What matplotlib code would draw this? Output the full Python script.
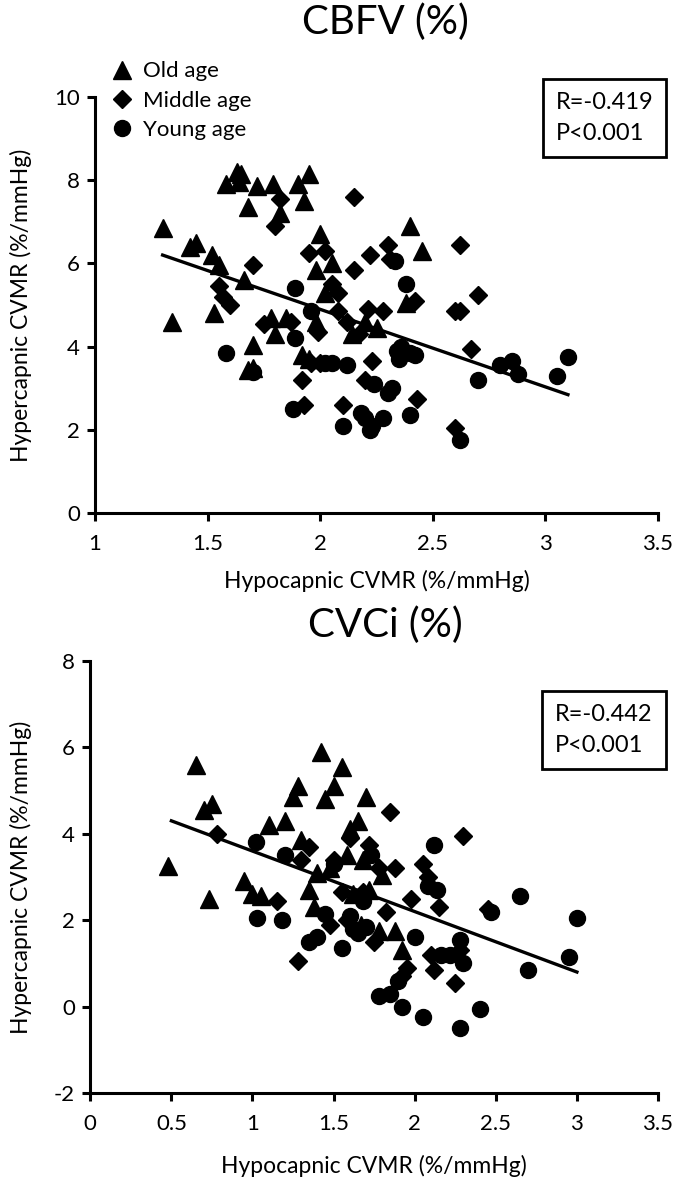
import matplotlib
matplotlib.use("Agg")
import matplotlib.pyplot as plt
import numpy as np

plt.rcParams['font.family'] = ['Lato', 'DejaVu Sans']
plt.rcParams['axes.unicode_minus'] = False

# ---- CBFV (%) panel ----
cbfv_old_x = [1.30, 1.34, 1.42, 1.45, 1.52, 1.55, 1.53, 1.58, 1.63, 1.64, 1.65, 1.66, 1.68, 1.70, 1.68, 1.70,
              1.72, 1.78, 1.79, 1.80, 1.82, 1.85, 1.90, 1.93, 1.95, 1.92, 1.95, 1.98, 2.00, 2.02, 2.05,
              2.14, 2.20, 2.25, 2.38, 2.40, 2.45, 1.98]
cbfv_old_y = [6.85, 4.60, 6.40, 6.50, 6.20, 5.95, 4.80, 7.90, 8.20, 7.95, 8.15, 5.60, 7.35, 4.05, 3.45, 3.50,
              7.85, 4.70, 7.90, 4.30, 7.20, 4.70, 7.90, 7.50, 8.15, 3.80, 3.70, 5.85, 6.70, 5.30, 6.00,
              4.30, 4.60, 4.45, 5.05, 6.90, 6.30, 4.60]
cbfv_mid_x = [1.55, 1.57, 1.60, 1.70, 1.75, 1.80, 1.82, 1.87, 1.92, 1.93, 1.95, 1.96, 1.99, 2.00, 2.02, 2.05,
              2.08, 2.08, 2.10, 2.12, 2.15, 2.15, 2.17, 2.20, 2.21, 2.22, 2.23, 2.28, 2.30, 2.31, 2.35,
              2.42, 2.43, 2.60, 2.60, 2.62, 2.62, 2.67, 2.70]
cbfv_mid_y = [5.45, 5.20, 5.00, 5.95, 4.55, 6.90, 7.55, 4.60, 3.20, 2.60, 6.25, 3.60, 4.35, 3.60, 6.30, 5.50,
              4.85, 5.30, 2.60, 4.60, 7.60, 5.85, 4.30, 3.20, 4.90, 6.20, 3.65, 4.85, 6.45, 6.10, 3.90,
              5.10, 2.75, 2.05, 4.85, 6.45, 4.85, 3.95, 5.25]
cbfv_young_x = [1.58, 1.70, 1.88, 1.89, 1.89, 1.96, 2.02, 2.05, 2.10, 2.12, 2.18, 2.20, 2.22, 2.23, 2.24, 2.28,
                2.30, 2.32, 2.33, 2.34, 2.35, 2.36, 2.38, 2.40, 2.42, 2.40, 2.62, 2.70, 2.80, 2.85, 2.88,
                3.05, 3.10]
cbfv_young_y = [3.85, 3.40, 2.50, 4.20, 5.40, 4.85, 3.60, 3.60, 2.10, 3.55, 2.40, 2.30, 2.00, 2.10, 3.10, 2.30,
                2.90, 3.00, 6.05, 3.90, 3.70, 4.00, 5.50, 3.85, 3.80, 2.35, 1.75, 3.20, 3.55, 3.65, 3.35,
                3.30, 3.75]
cbfv_fit_x = [1.30, 3.10]
cbfv_fit_y = [6.20, 2.85]

# ---- CVCi (%) panel ----
cvci_old_x = [0.48, 0.65, 0.70, 0.75, 0.73, 0.95, 1.00, 1.05, 1.10, 1.20, 1.25, 1.28, 1.30, 1.35, 1.38, 1.42,
              1.48, 1.50, 1.55, 1.58, 1.62, 1.65, 1.68, 1.70, 1.72, 1.78, 1.80, 1.88, 1.92, 1.40, 1.45,
              1.60, 1.67]
cvci_old_y = [3.25, 5.60, 4.55, 4.70, 2.50, 2.90, 2.60, 2.55, 4.20, 4.30, 4.85, 5.10, 3.85, 2.70, 2.30, 5.90,
              3.20, 5.10, 5.55, 3.50, 2.60, 4.30, 3.40, 4.85, 2.70, 1.75, 3.05, 1.75, 1.30, 3.10, 4.80,
              4.10, 1.90]
cvci_mid_x = [0.78, 1.15, 1.28, 1.30, 1.35, 1.48, 1.50, 1.55, 1.58, 1.60, 1.68, 1.72, 1.75, 1.78, 1.82, 1.85,
              1.88, 1.92, 1.95, 1.98, 2.05, 2.08, 2.10, 2.12, 2.15, 2.25, 2.28, 2.30, 2.45]
cvci_mid_y = [4.00, 2.45, 1.05, 3.40, 3.70, 1.90, 3.40, 2.65, 2.00, 3.90, 2.65, 3.75, 1.50, 3.20, 2.20, 4.50,
              3.20, 0.70, 0.90, 2.50, 3.30, 3.00, 1.20, 0.85, 2.30, 0.55, 1.30, 3.95, 2.25]
cvci_young_x = [1.02, 1.03, 1.18, 1.20, 1.35, 1.40, 1.45, 1.50, 1.55, 1.60, 1.62, 1.68, 1.70, 1.73, 1.78, 1.85,
                1.90, 1.92, 2.00, 2.05, 2.08, 2.12, 2.14, 2.16, 2.22, 2.28, 2.28, 2.30, 2.40, 2.47, 2.65,
                2.70, 2.95, 3.00, 1.65]
cvci_young_y = [3.80, 2.05, 2.00, 3.50, 1.50, 1.60, 2.15, 3.30, 1.35, 2.10, 1.80, 2.45, 1.85, 3.50, 0.25, 0.30,
                0.60, 0.00, 1.60, -0.25, 2.80, 3.75, 2.70, 1.20, 1.20, -0.50, 1.55, 1.00, -0.05, 2.20, 2.55,
                0.85, 1.15, 2.05, 1.70]
cvci_fit_x = [0.50, 3.00]
cvci_fit_y = [4.30, 0.80]

xlabel = "Hypocapnic CVMR (%/mmHg)"
ylabel = "Hypercapnic CVMR (%/mmHg)"

fig = plt.figure(figsize=(6.84, 11.94), dpi=100)
ax1 = fig.add_axes([0.139, 0.570, 0.823, 0.349])
ax2 = fig.add_axes([0.132, 0.0846, 0.830, 0.3618])


def style(ax, xlab_y, ylab_x):
    for s in ['top', 'right']:
        ax.spines[s].set_visible(False)
    for s in ['left', 'bottom']:
        ax.spines[s].set_linewidth(2.2)
    ax.tick_params(width=2.2, length=6, labelsize=16, direction='out')
    ax.tick_params(axis='x', pad=9)
    ax.tick_params(axis='y', pad=5)
    ax.set_xlabel(xlabel, fontsize=16.5)
    ax.set_ylabel(ylabel, fontsize=16.5)
    ax.xaxis.set_label_coords(0.5, xlab_y)
    ax.yaxis.set_label_coords(ylab_x, 0.5)


def draw(ax, old, mid, young, fit):
    ax.plot(old[0], old[1], '^', color='black', ms=12.5, ls='none', label='Old age', clip_on=False)
    ax.plot(mid[0], mid[1], 'D', color='black', ms=9.5, ls='none', label='Middle age', clip_on=False)
    ax.plot(young[0], young[1], 'o', color='black', ms=11.5, ls='none', label='Young age', clip_on=False)
    ax.plot(fit[0], fit[1], color='black', lw=2.4)


def stats_box(ax, x, y, txt):
    ax.text(x, y, txt, transform=ax.transAxes, ha='left', va='top', fontsize=17,
            multialignment='left', linespacing=1.6,
            bbox=dict(boxstyle='square,pad=0.55', fc='white', ec='black', lw=2))


draw(ax1, (cbfv_old_x, cbfv_old_y), (cbfv_mid_x, cbfv_mid_y), (cbfv_young_x, cbfv_young_y), (cbfv_fit_x, cbfv_fit_y))
ax1.set_xlim(1, 3.5)
ax1.set_ylim(0, 10)
ax1.set_xticks([1, 1.5, 2, 2.5, 3, 3.5])
ax1.set_xticklabels(['1', '1.5', '2', '2.5', '3', '3.5'])
ax1.set_yticks([0, 2, 4, 6, 8, 10])
style(ax1, -0.135, -0.112)
fig.text(0.563, 0.9816, "CBFV (%)", fontsize=29, ha='center', va='center')
ax1.legend(loc='upper left', bbox_to_anchor=(0.028, 1.085), frameon=False, fontsize=16,
           handletextpad=0.45, labelspacing=0.42, handlelength=1.0, borderaxespad=0, borderpad=0)
stats_box(ax1, 0.818, 1.012, "R=-0.419\nP<0.001")

draw(ax2, (cvci_old_x, cvci_old_y), (cvci_mid_x, cvci_mid_y), (cvci_young_x, cvci_young_y), (cvci_fit_x, cvci_fit_y))
ax2.set_xlim(0, 3.5)
ax2.set_ylim(-2, 8)
ax2.set_xticks([0, 0.5, 1, 1.5, 2, 2.5, 3, 3.5])
ax2.set_xticklabels(['0', '0.5', '1', '1.5', '2', '2.5', '3', '3.5'])
ax2.set_yticks([-2, 0, 2, 4, 6, 8])
style(ax2, -0.143, -0.102)
fig.text(0.563, 0.4766, "CVCi (%)", fontsize=29, ha='center', va='center')
stats_box(ax2, 0.819, 0.900, "R=-0.442\nP<0.001")

fig.savefig("out.png", dpi=100)
